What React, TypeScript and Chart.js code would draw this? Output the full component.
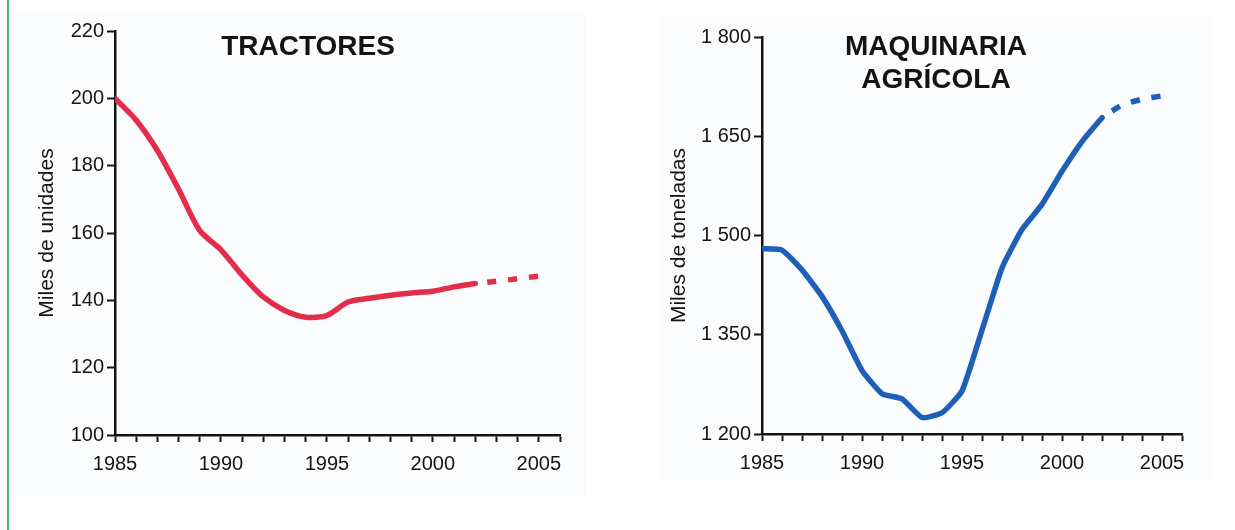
import React, { useEffect, useRef } from "react";
import { Chart, registerables } from "chart.js";

Chart.register(...registerables);

// ---------- data ----------
const years = [1985, 1986, 1987, 1988, 1989, 1990, 1991, 1992, 1993, 1994, 1995, 1996, 1997, 1998, 1999, 2000, 2001, 2002];
const projYears = [2002, 2003, 2004, 2005];

const tractores = [200, 193.5, 184.5, 173, 160.7, 155, 147.5, 141, 137, 135, 135.5, 139.5, 140.6, 141.5, 142.2, 142.7, 144, 145];
const tractoresProj = [145, 145.7, 146.4, 147.2];

const maquinaria = [1480, 1478, 1448, 1408, 1356, 1296, 1261, 1253, 1225, 1232, 1265, 1357, 1451, 1509, 1547, 1597, 1642, 1678];
const maquinariaProj = [1678, 1697, 1706, 1711];

const xLabelYears = [1985, 1990, 1995, 2000, 2005];
const tractoresTicks = [100, 120, 140, 160, 180, 200, 220];
const maquinariaTicks = [1200, 1350, 1500, 1650, 1800];

const FONT = '"Liberation Sans", Arial, Helvetica, sans-serif';
const RED = "#e42d4a";
const BLUE = "#1e5fb8";
const INK = "#141414";

const titlePlugin = {
  id: "panelTitle",
  afterDraw(chart: any, _args: any, opts: any) {
    if (!opts || !opts.lines) return;
    const ctx = chart.ctx;
    ctx.save();
    ctx.font = `bold 28px ${FONT}`;
    ctx.fillStyle = INK;
    ctx.textAlign = "center";
    ctx.textBaseline = "middle";
    opts.lines.forEach((t: string, i: number) => ctx.fillText(t, opts.x, opts.y + i * opts.gap));
    ctx.restore();
  },
};

function pts(xs: number[], ys: number[]) {
  return xs.map((x, i) => ({ x, y: ys[i] }));
}

function makeConfig(p: {
  main: number[];
  proj: number[];
  color: string;
  yTicks: number[];
  yLabel: string;
  yFmt: (v: number) => string;
  yWidth: number;
  xHeight: number;
  padTop: number;
  padRight: number;
  titlePad: number;
  tension: number;
  title: { lines: string[]; x: number; y: number; gap: number };
}): any {
  const yMin = p.yTicks[0];
  const yMax = p.yTicks[p.yTicks.length - 1];
  const yStep = p.yTicks[1] - p.yTicks[0];
  return {
    type: "line",
    data: {
      datasets: [
        {
          data: pts(years, p.main),
          borderColor: p.color,
          borderWidth: 5.5,
          pointRadius: 0,
          tension: p.tension,
          borderCapStyle: "round",
          borderJoinStyle: "round",
          fill: false,
        },
        {
          data: pts(projYears, p.proj),
          borderColor: p.color,
          borderWidth: 5.5,
          pointRadius: 0,
          tension: 0.2,
          borderDash: [9, 12],
          borderDashOffset: -12,
          fill: false,
        },
      ],
    },
    options: {
      responsive: false,
      animation: false,
      events: [],
      layout: { padding: { top: p.padTop, right: p.padRight, left: 0, bottom: 0 } },
      plugins: {
        legend: { display: false },
        tooltip: { enabled: false },
        panelTitle: p.title,
      },
      scales: {
        x: {
          type: "linear",
          min: 1985,
          max: 2006,
          afterFit: (s: any) => {
            s.height = p.xHeight;
          },
          border: { display: true, color: INK, width: 2.5 },
          grid: { display: true, drawOnChartArea: false, drawTicks: true, tickLength: 7, tickWidth: 2, tickColor: INK },
          ticks: {
            stepSize: 1,
            autoSkip: false,
            maxRotation: 0,
            minRotation: 0,
            padding: 10,
            color: INK,
            font: { family: FONT, size: 20 },
            callback: (v: any) => (xLabelYears.includes(Number(v)) ? String(v) : ""),
          },
        },
        y: {
          type: "linear",
          min: yMin,
          max: yMax,
          afterFit: (s: any) => {
            s.width = p.yWidth;
          },
          border: { display: true, color: INK, width: 2.5 },
          grid: { display: true, drawOnChartArea: false, drawTicks: true, tickLength: 8, tickWidth: 2, tickColor: INK },
          ticks: {
            stepSize: yStep,
            padding: 3,
            color: INK,
            font: { family: FONT, size: 20 },
            callback: (v: any) => p.yFmt(Number(v)),
          },
          title: {
            display: true,
            text: p.yLabel,
            color: INK,
            font: { family: FONT, size: 21 },
            padding: { top: p.titlePad, bottom: 0 },
          },
        },
      },
    },
    plugins: [titlePlugin],
  };
}

function ChartCanvas({ config, left, top, width, height }: any) {
  const ref = useRef<HTMLCanvasElement | null>(null);
  useEffect(() => {
    if (!ref.current) return;
    const chart = new Chart(ref.current, config);
    return () => chart.destroy();
  }, []);
  return (
    <canvas
      ref={ref}
      width={width}
      height={height}
      style={{ position: "absolute", left, top, width, height }}
    />
  );
}

export default function App() {
  useEffect(() => {
    document.body.style.margin = "0";
    document.body.style.background = "#ffffff";
  }, []);

  const leftCfg = makeConfig({
    main: tractores,
    proj: tractoresProj,
    color: RED,
    yTicks: tractoresTicks,
    yLabel: "Miles de unidades",
    yFmt: (v) => String(v),
    yWidth: 115,
    xHeight: 65,
    padTop: 31,
    padRight: 40,
    titlePad: 35,
    tension: 0.25,
    title: { lines: ["TRACTORES"], x: 308, y: 47, gap: 33 },
  });

  const rightCfg = makeConfig({
    main: maquinaria,
    proj: maquinariaProj,
    color: BLUE,
    yTicks: maquinariaTicks,
    yLabel: "Miles de toneladas",
    yFmt: (v) => `${Math.floor(v / 1000)} ${String(v % 1000).padStart(3, "0")}`,
    yWidth: 142,
    xHeight: 66,
    padTop: 37,
    padRight: 53,
    titlePad: 47,
    tension: 0.15,
    title: { lines: ["MAQUINARIA", "AGRÍCOLA"], x: 316, y: 47, gap: 33 },
  });

  return (
    <div style={{ position: "absolute", left: 0, top: 0, width: 1235, height: 530, background: "#fff", overflow: "hidden" }}>
      <div style={{ position: "absolute", left: 7, top: 0, width: 2, height: 530, background: "#4dba7c" }} />
      <div style={{ position: "absolute", left: 12, top: 12, width: 574, height: 485, background: "#fbfcfd" }} />
      <div style={{ position: "absolute", left: 660, top: 17, width: 553, height: 463, background: "#fbfcfd" }} />
      <ChartCanvas config={leftCfg} left={0} top={0} width={600} height={500} />
      <ChartCanvas config={rightCfg} left={620} top={0} width={615} height={500} />
    </div>
  );
}
